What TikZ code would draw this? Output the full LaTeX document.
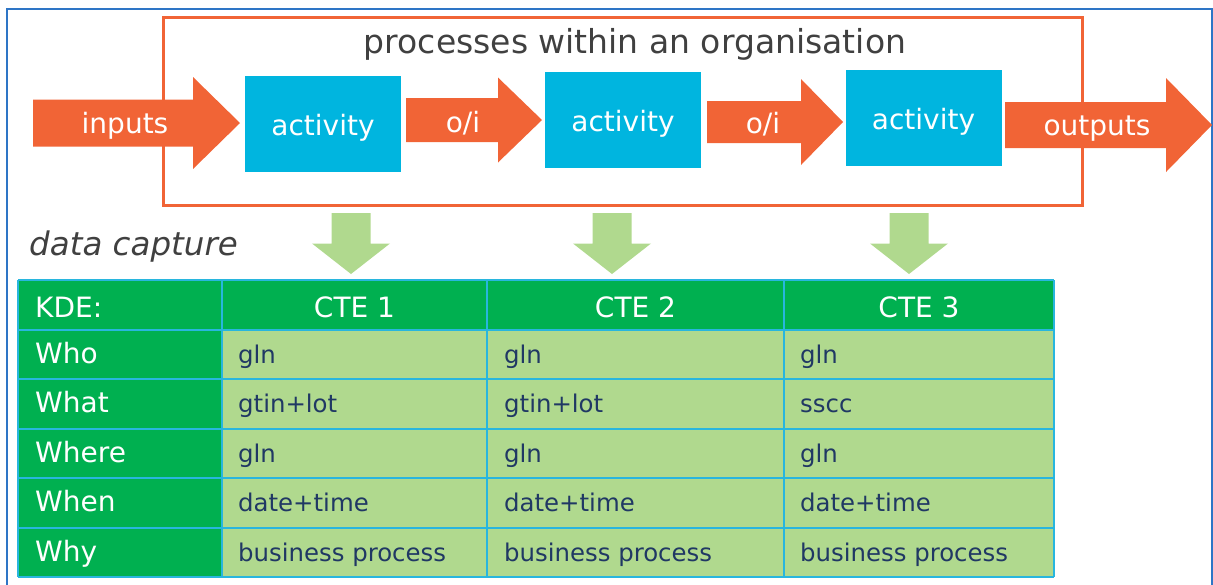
\documentclass[tikz,border=0pt]{standalone}
\usepackage{fontspec}
\setmainfont{DejaVu Sans}
\usetikzlibrary{positioning,calc}
\definecolor{orng}{RGB}{241,100,54}
\definecolor{actblue}{RGB}{0,181,223}
\definecolor{frameblue}{RGB}{46,117,198}
\definecolor{hdgreen}{RGB}{0,176,80}
\definecolor{lgreen}{RGB}{176,217,142}
\definecolor{gridcyan}{RGB}{40,182,222}
\definecolor{navy}{RGB}{32,56,100}
\definecolor{txtgray}{RGB}{64,64,64}
% right-pointing block arrow: x start, x head, x tip, y centre, shaft half, head half
\newcommand*{\rarrow}[6]{%
  \fill[orng] (#1,#4-#5) -- (#2,#4-#5) -- (#2,#4-#6) -- (#3,#4) --
    (#2,#4+#6) -- (#2,#4+#5) -- (#1,#4+#5) -- cycle;}

\begin{document}
\begin{tikzpicture}[x=1pt,y=-1pt,
  big/.style={font=\fontsize{28}{30}\selectfont},
  actbox/.style={big,fill=actblue,text=white,minimum width=156pt,
    minimum height=96pt,inner sep=0pt,text height=23pt,text depth=0pt},
  arrtext/.style={big,text=white,anchor=base,inner sep=0pt},
  keytext/.style={big,text=white,anchor=base west,inner sep=0pt},
  celltext/.style={font=\fontsize{24.4}{26}\selectfont,text=navy,
    anchor=base west,inner sep=0pt},
  gridline/.style={gridcyan,line width=1.6pt}]
\useasboundingbox (0,0) rectangle (1213,584);
% Outer frame
\draw[frameblue,line width=1.5pt] (7,600) |- (1212,9) -- (1212,600);
% Organisation box and its title
\draw[orng,line width=3pt] (163,17) rectangle (1082,205);
\node[font=\fontsize{33}{36}\selectfont,text=txtgray,anchor=base,inner sep=0pt]
  (title) at (635,53) {processes within an organisation};
% Flow arrows
\rarrow{33}{193}{240}{123}{23.5}{46}
\rarrow{406}{498}{542}{120}{22}{42.5}
\rarrow{707}{801}{843}{122}{21}{43}
\rarrow{1005}{1166}{1212}{125}{23}{47}
\node[arrtext] (inputs) at (125,133) {inputs};
\node[arrtext] (oi1) at (463,132) {o/i};
\node[arrtext] (oi2) at (763,133) {o/i};
\node[arrtext] (outputs) at (1097,135) {outputs};
% Activities
\node[actbox] (act1) at (323,124) {activity};
\node[actbox] (act2) at (623,119.5) {activity};
\node[actbox] (act3) at (923.5,118) {activity};
% Capture arrows
\foreach \cx in {351,612,909}
  \fill[lgreen] (\cx-19.5,213) -- (\cx+19.5,213) -- (\cx+19.5,243.5) --
    (\cx+39,243.5) -- (\cx,274) -- (\cx-39,243.5) -- (\cx-19.5,243.5) -- cycle;
\node[font=\fontsize{32.5}{35}\selectfont\itshape,text=txtgray,
  anchor=base west,inner sep=0pt] (capture) at (29,255) {data capture};
% Table
\fill[hdgreen] (18,280) rectangle (1054,330);
\fill[hdgreen] (18,330) rectangle (222,577);
\fill[lgreen] (222,330) rectangle (1054,577);
\foreach \gx in {18,222,487,784,1054}
  \draw[gridline] (\gx,280) -- (\gx,577);
\foreach \gy in {280,330,379,429,478,528,577}
  \draw[gridline] (18,\gy) -- (1054,\gy);
\node[keytext] (kde) at (35,317) {KDE:};
\node[arrtext] (cte1) at (354.5,317) {CTE 1};
\node[arrtext] (cte2) at (635.5,317) {CTE 2};
\node[arrtext] (cte3) at (919,317) {CTE 3};
\foreach \key/\ca/\cb/\cc [count=\r] in {Who/gln/gln/gln,
    What/gtin+lot/gtin+lot/sscc, Where/gln/gln/gln,
    When/date+time/date+time/date+time,
    Why/business process/business process/business process} {
  \node[keytext] (key\r) at (35,314+49.4*\r) {\key};
  \node[celltext] (c\r-1) at (238,314+49.4*\r) {\ca};
  \node[celltext] (c\r-2) at (504,314+49.4*\r) {\cb};
  \node[celltext] (c\r-3) at (800,314+49.4*\r) {\cc};
}
\end{tikzpicture}
\end{document}
